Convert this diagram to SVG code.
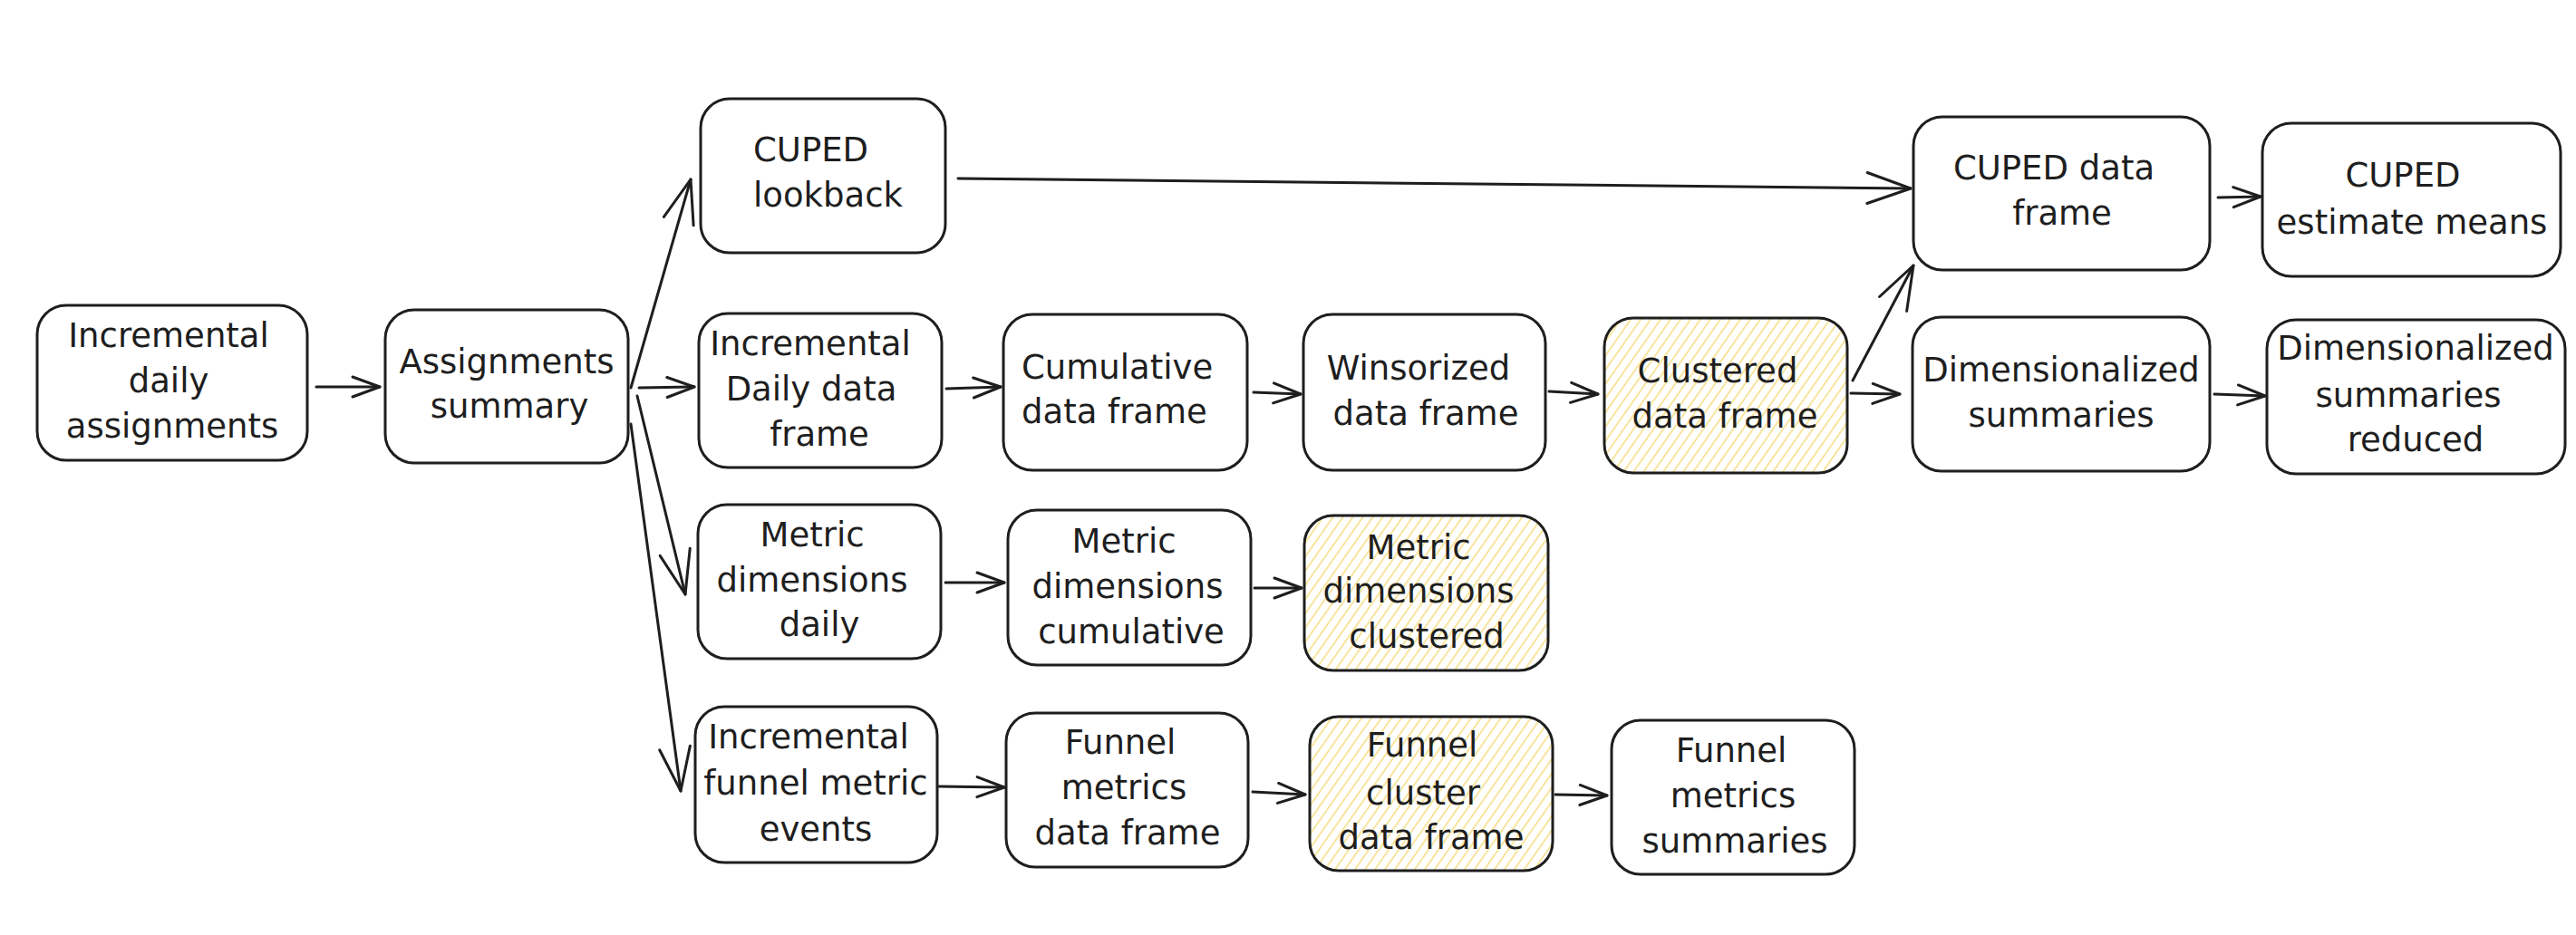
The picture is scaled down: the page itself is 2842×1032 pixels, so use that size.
<svg xmlns="http://www.w3.org/2000/svg" width="2842" height="1032" viewBox="0 0 2842 1032">
<style>
.box{fill:#ffffff;stroke:#1e1e1e;stroke-width:3}
.hl{fill:url(#hatch);stroke:#1e1e1e;stroke-width:3}
.lbl{font-family:"DejaVu Sans","Liberation Sans",sans-serif;font-size:37px;fill:#1e1e1e;text-anchor:middle}
.left{text-anchor:start}
.c{fill:none;stroke:#1e1e1e;stroke-width:3;stroke-linecap:round}
.s{marker-end:url(#ahs)}
.l{marker-end:url(#ahl)}
</style>
<defs>
<pattern id="hatch" width="9" height="9" patternUnits="userSpaceOnUse" patternTransform="rotate(35)">
<rect width="9" height="9" fill="#ffffff"/>
<line x1="2" y1="0" x2="2" y2="9" stroke="#f7df86" stroke-width="1.6"/>
</pattern>
<marker id="ahs" markerUnits="userSpaceOnUse" markerWidth="40" markerHeight="30" refX="0" refY="0" orient="auto" overflow="visible">
<path d="M -30 -11 L 0 0 L -30 11" fill="none" stroke="#1e1e1e" stroke-width="3" stroke-linecap="round" stroke-linejoin="round"/>
</marker>
<marker id="ahl" markerUnits="userSpaceOnUse" markerWidth="60" markerHeight="40" refX="0" refY="0" orient="auto" overflow="visible">
<path d="M -48 -17 L 0 0 L -48 17" fill="none" stroke="#1e1e1e" stroke-width="3" stroke-linecap="round" stroke-linejoin="round"/>
</marker>
</defs>
<rect x="0" y="0" width="2842" height="1032" fill="#ffffff"/>

<g id="connectors">
<path class="c s" d="M349 427 L419 427"/>
<path class="c l" d="M696 428 L762 198"/>
<path class="c s" d="M705 428 L766 427"/>
<path class="c l" d="M703 437 L756 656"/>
<path class="c l" d="M696 468 L751 873"/>
<path class="c s" d="M1044 429 L1104 427"/>
<path class="c s" d="M1383 433 L1435 435"/>
<path class="c s" d="M1709 432 L1763 435"/>
<path class="c s" d="M2042 434 L2096 435"/>
<path class="c l" d="M2044 420 L2111 293"/>
<path class="c l" d="M1057 197 L2108 208"/>
<path class="c s" d="M2447 218 L2494 217"/>
<path class="c s" d="M2443 435 L2499 437"/>
<path class="c s" d="M1043 643 L1108 643"/>
<path class="c s" d="M1384 649 L1436 649"/>
<path class="c s" d="M1036 868 L1108 869"/>
<path class="c s" d="M1382 874 L1440 877"/>
<path class="c s" d="M1716 877 L1773 878"/>
</g>

<g id="n-incremental-daily-assignments">
<rect class="box" x="41" y="337" width="298" height="171" rx="32"/>
<text class="lbl"><tspan x="186" y="383">Incremental</tspan><tspan x="186" y="433">daily</tspan><tspan x="190" y="483">assignments</tspan></text>
</g>
<g id="n-assignments-summary">
<rect class="box" x="425" y="342" width="268" height="169" rx="32"/>
<text class="lbl"><tspan x="559" y="412">Assignments</tspan><tspan x="562" y="461">summary</tspan></text>
</g>
<g id="n-cuped-lookback">
<rect class="box" x="773" y="109" width="270" height="170" rx="32"/>
<text class="lbl left"><tspan x="831" y="178">CUPED</tspan><tspan x="831" y="228">lookback</tspan></text>
</g>
<g id="n-incremental-daily-data-frame">
<rect class="box" x="771" y="346" width="268" height="170" rx="32"/>
<text class="lbl"><tspan x="894" y="392">Incremental</tspan><tspan x="895" y="442">Daily data</tspan><tspan x="904" y="492">frame</tspan></text>
</g>
<g id="n-metric-dimensions-daily">
<rect class="box" x="770" y="557" width="268" height="170" rx="32"/>
<text class="lbl"><tspan x="896" y="603">Metric</tspan><tspan x="896" y="653">dimensions</tspan><tspan x="904" y="702">daily</tspan></text>
</g>
<g id="n-incremental-funnel-metric-events">
<rect class="box" x="767" y="780" width="267" height="172" rx="32"/>
<text class="lbl"><tspan x="892" y="826">Incremental</tspan><tspan x="900" y="877">funnel metric</tspan><tspan x="900" y="928">events</tspan></text>
</g>
<g id="n-cumulative-data-frame">
<rect class="box" x="1107" y="347" width="269" height="172" rx="32"/>
<text class="lbl left"><tspan x="1127" y="418">Cumulative</tspan><tspan x="1127" y="467">data frame</tspan></text>
</g>
<g id="n-winsorized-data-frame">
<rect class="box" x="1438" y="347" width="267" height="172" rx="32"/>
<text class="lbl"><tspan x="1565" y="419">Winsorized</tspan><tspan x="1573" y="469">data frame</tspan></text>
</g>
<g id="n-clustered-data-frame">
<rect class="hl" x="1770" y="351" width="268" height="171" rx="32"/>
<text class="lbl"><tspan x="1895" y="422">Clustered</tspan><tspan x="1903" y="472">data frame</tspan></text>
</g>
<g id="n-cuped-data-frame">
<rect class="box" x="2111" y="129" width="327" height="169" rx="32"/>
<text class="lbl"><tspan x="2266" y="198">CUPED data</tspan><tspan x="2275" y="248">frame</tspan></text>
</g>
<g id="n-cuped-estimate-means">
<rect class="box" x="2496" y="136" width="329" height="169" rx="32"/>
<text class="lbl"><tspan x="2651" y="206">CUPED</tspan><tspan x="2661" y="258">estimate means</tspan></text>
</g>
<g id="n-dimensionalized-summaries">
<rect class="box" x="2110" y="350" width="328" height="170" rx="32"/>
<text class="lbl"><tspan x="2274" y="421">Dimensionalized</tspan><tspan x="2274" y="471">summaries</tspan></text>
</g>
<g id="n-dimensionalized-summaries-reduced">
<rect class="box" x="2501" y="353" width="329" height="170" rx="32"/>
<text class="lbl"><tspan x="2665" y="397">Dimensionalized</tspan><tspan x="2657" y="449">summaries</tspan><tspan x="2665" y="498">reduced</tspan></text>
</g>
<g id="n-metric-dimensions-cumulative">
<rect class="box" x="1112" y="563" width="268" height="171" rx="32"/>
<text class="lbl"><tspan x="1240" y="610">Metric</tspan><tspan x="1244" y="660">dimensions</tspan><tspan x="1248" y="710">cumulative</tspan></text>
</g>
<g id="n-metric-dimensions-clustered">
<rect class="hl" x="1439" y="569" width="269" height="171" rx="32"/>
<text class="lbl"><tspan x="1565" y="617">Metric</tspan><tspan x="1565" y="665">dimensions</tspan><tspan x="1574" y="715">clustered</tspan></text>
</g>
<g id="n-funnel-metrics-data-frame">
<rect class="box" x="1110" y="787" width="267" height="170" rx="32"/>
<text class="lbl"><tspan x="1236" y="832">Funnel</tspan><tspan x="1240" y="882">metrics</tspan><tspan x="1244" y="932">data frame</tspan></text>
</g>
<g id="n-funnel-cluster-data-frame">
<rect class="hl" x="1445" y="791" width="268" height="170" rx="32"/>
<text class="lbl"><tspan x="1569" y="835">Funnel</tspan><tspan x="1570" y="888">cluster</tspan><tspan x="1579" y="937">data frame</tspan></text>
</g>
<g id="n-funnel-metrics-summaries">
<rect class="box" x="1778" y="795" width="268" height="170" rx="32"/>
<text class="lbl"><tspan x="1910" y="841">Funnel</tspan><tspan x="1912" y="891">metrics</tspan><tspan x="1914" y="941">summaries</tspan></text>
</g>
</svg>
